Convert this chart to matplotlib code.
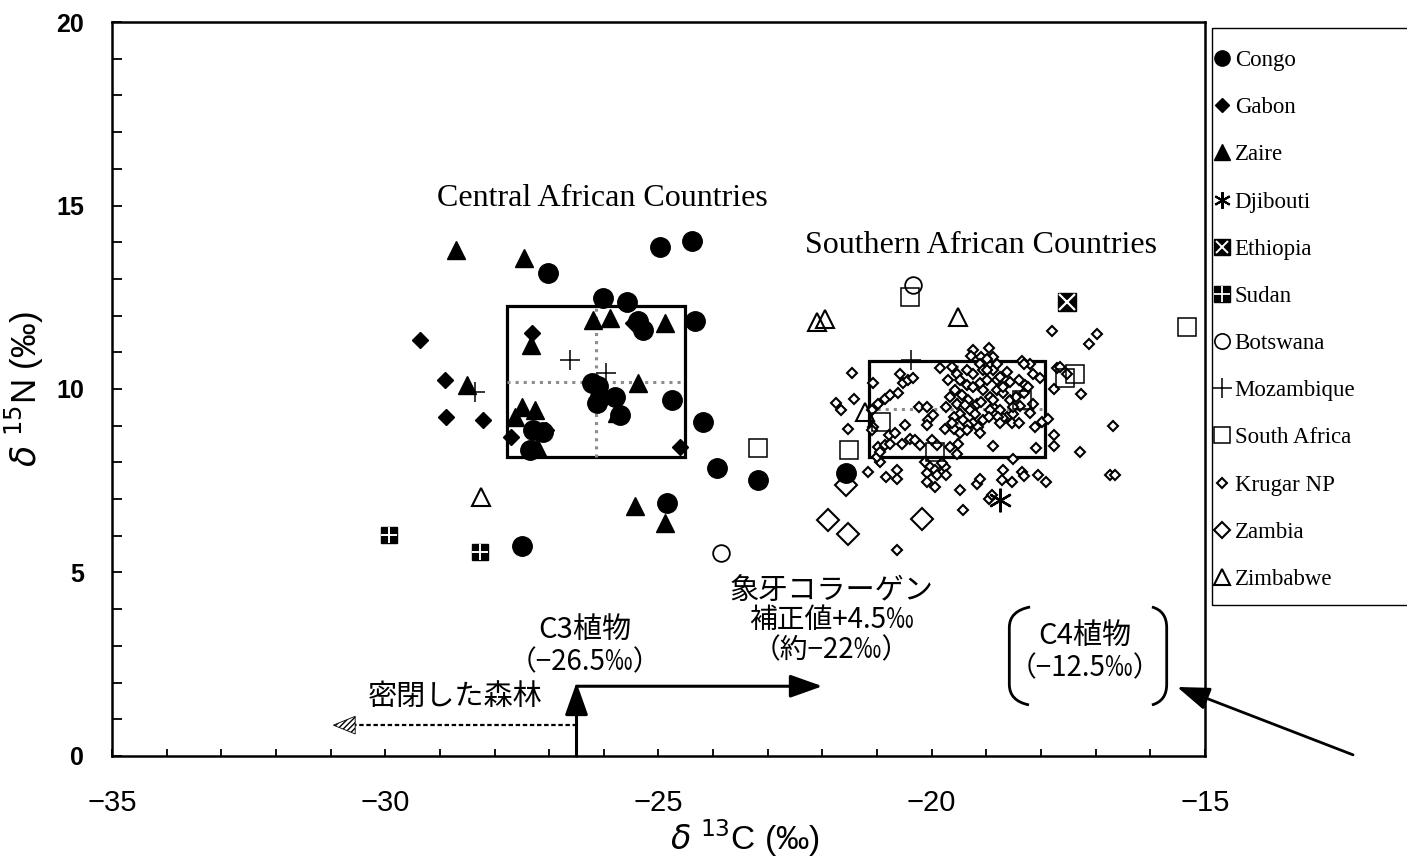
import matplotlib
matplotlib.use('Agg')
import matplotlib.pyplot as plt
from matplotlib.lines import Line2D
from matplotlib.patches import Rectangle, Polygon, PathPatch
from matplotlib.path import Path
from matplotlib.legend_handler import HandlerTuple

# ---------------- data (delta13C, delta15N) ----------------
congo = [(-24.98, 13.88), (-24.38, 14.02), (-27.03, 13.15), (-26.02, 12.47), (-25.58, 12.38),
         (-25.37, 11.84), (-25.28, 11.61), (-24.33, 11.84), (-26.22, 10.16), (-26.10, 10.07),
         (-26.07, 9.79), (-25.80, 9.79), (-26.13, 9.61), (-25.70, 9.29), (-24.76, 9.70),
         (-24.19, 9.11), (-23.93, 7.84), (-23.17, 7.52), (-24.85, 6.89), (-27.50, 5.71),
         (-27.29, 8.88), (-27.11, 8.84), (-27.35, 8.34), (-21.56, 7.70)]
gabon = [(-29.36, 11.34), (-28.91, 10.25), (-28.88, 9.25), (-28.21, 9.16), (-27.32, 11.52),
         (-27.69, 8.70), (-27.05, 8.88), (-24.61, 8.43), (-25.46, 11.79)]
zaire = [(-28.71, 13.79), (-27.46, 13.56), (-27.33, 11.20), (-28.50, 10.11), (-26.19, 11.88),
         (-25.89, 11.93), (-24.88, 11.79), (-25.37, 10.16), (-27.50, 9.52), (-27.26, 9.43),
         (-27.63, 9.25), (-27.23, 8.43), (-25.75, 9.34), (-25.43, 6.80), (-24.88, 6.34)]
djibouti = [(-18.75, 6.97)]
ethiopia = [(-17.53, 12.36)]
sudan = [(-29.94, 6.02), (-28.27, 5.57)]
botswana = [(-23.86, 5.53), (-20.35, 12.83)]
mozambique = [(-26.62, 10.79), (-25.96, 10.43), (-28.36, 9.93), (-20.38, 10.79)]
south_africa = [(-23.17, 8.39), (-20.40, 12.51), (-15.32, 11.68), (-17.38, 10.40), (-17.56, 10.29),
                (-18.35, 9.70), (-20.92, 9.10), (-21.51, 8.33), (-19.94, 8.29)]
zambia = [(-21.89, 6.42), (-21.53, 6.06), (-20.18, 6.47), (-21.56, 7.38)]
zimbabwe = [(-28.24, 7.07), (-22.10, 11.83), (-21.95, 11.92), (-19.51, 11.95), (-21.22, 9.38)]
krugar = [(-17.80, 11.58), (-16.98, 11.49), (-17.12, 11.22), (-19.24, 11.06), (-18.95, 11.12),
          (-19.09, 10.86), (-19.29, 10.89), (-18.88, 10.86), (-18.35, 10.77), (-18.20, 10.69),
          (-21.46, 10.44), (-21.75, 9.62), (-21.66, 9.44), (-21.43, 9.74), (-21.54, 8.90),
          (-21.16, 7.74), (-20.84, 7.60), (-20.63, 7.79), (-20.63, 7.56), (-20.95, 8.01),
          (-20.64, 5.62), (-21.08, 10.15), (-21.10, 9.42), (-21.07, 8.97), (-20.98, 9.60),
          (-20.85, 9.74), (-20.76, 9.83), (-20.61, 9.88), (-20.52, 10.15), (-20.43, 10.24),
          (-20.34, 10.29), (-20.58, 10.42), (-20.98, 8.42), (-20.85, 8.47), (-20.76, 8.51),
          (-20.79, 8.74), (-20.67, 8.79), (-20.55, 8.51), (-20.49, 9.01), (-20.40, 8.65),
          (-20.31, 8.60), (-20.21, 8.47), (-20.24, 9.51), (-20.09, 9.51), (-20.06, 9.15),
          (-19.97, 9.29), (-20.09, 9.01), (-20.00, 8.60), (-19.91, 8.47), (-19.76, 8.92),
          (-19.85, 10.56), (-19.67, 8.42), (-19.54, 8.24), (-19.63, 10.60), (-19.54, 10.42),
          (-19.48, 10.24), (-19.36, 10.10), (-19.57, 9.97), (-19.45, 9.83), (-19.33, 9.70),
          (-19.12, 10.69), (-18.99, 10.83), (-18.87, 10.51), (-18.81, 10.24), (-19.06, 9.97),
          (-18.93, 9.79), (-19.18, 9.60), (-19.30, 9.42), (-19.48, 9.33), (-19.60, 9.24),
          (-19.42, 9.15), (-19.24, 9.06), (-19.15, 8.97), (-19.06, 9.15), (-18.87, 9.51),
          (-18.81, 9.97), (-18.93, 9.42), (-19.60, 8.92), (-19.48, 8.79), (-19.33, 9.01),
          (-19.24, 10.06), (-19.12, 10.15), (-18.99, 10.24), (-18.75, 10.33), (-18.63, 10.47),
          (-18.57, 10.19), (-18.81, 10.69), (-18.14, 10.42), (-18.32, 10.69), (-18.69, 9.88),
          (-18.57, 9.70), (-18.45, 9.79), (-18.32, 9.88), (-18.29, 10.10), (-18.75, 9.42),
          (-18.63, 9.24), (-18.51, 9.33), (-18.38, 9.53), (-18.20, 9.35), (-18.69, 9.20),
          (-18.54, 9.06), (-18.41, 9.08), (-17.99, 9.10), (-18.87, 9.70), (-18.02, 10.29),
          (-19.36, 10.51), (-19.06, 10.51), (-19.24, 10.42), (-17.71, 10.56), (-17.65, 10.60),
          (-17.77, 9.99), (-17.26, 9.86), (-17.53, 10.40), (-17.87, 9.17), (-17.77, 8.74),
          (-17.77, 8.45), (-17.29, 8.29), (-16.69, 8.99), (-16.74, 7.65), (-16.65, 7.65),
          (-18.10, 8.38), (-18.88, 8.45), (-18.52, 8.08), (-20.12, 8.01), (-20.03, 7.88),
          (-19.94, 7.79), (-20.09, 7.70), (-19.91, 7.65), (-20.09, 7.47), (-19.94, 7.33),
          (-19.76, 7.88), (-19.73, 7.65), (-19.82, 7.97), (-19.48, 7.24), (-19.42, 6.71),
          (-19.18, 7.42), (-19.12, 7.56), (-18.69, 7.79), (-18.72, 7.53), (-18.54, 7.47),
          (-18.35, 7.74), (-18.32, 7.62), (-18.05, 7.67), (-17.91, 7.47), (-18.96, 7.01),
          (-18.90, 7.10), (-21.01, 8.15), (-20.95, 8.29), (-21.10, 8.88), (-19.63, 9.06),
          (-19.67, 9.79), (-19.54, 9.60), (-19.39, 9.56), (-19.09, 9.65), (-18.96, 9.24),
          (-18.78, 9.24), (-19.21, 9.33), (-19.70, 10.24), (-18.99, 10.51), (-18.69, 10.06),
          (-18.51, 9.51), (-18.41, 10.24), (-18.23, 10.06), (-18.14, 9.60), (-18.11, 8.97),
          (-19.73, 9.51), (-19.36, 8.88), (-19.12, 8.79), (-18.75, 9.06), (-19.51, 8.51)]

# group mean and SD (box = mean +/- SD)
group_names = ["Central African Countries", "Southern African Countries"]
group_mean_x = [-26.14, -19.54]
group_mean_y = [10.20, 9.45]
group_sd_x = [1.63, 1.61]
group_sd_y = [2.05, 1.30]

# reference values of plants
c3_value = -26.5
collagen_value = -22.0
c4_value = -12.5

x_ticks = [-35, -30, -25, -20, -15]
y_ticks = [0, 5, 10, 15, 20]

# ---------------- figure ----------------
JP = ['Noto Sans CJK JP', 'DejaVu Sans']
SERIF = ['Liberation Serif', 'DejaVu Serif']
NARROW = ['Liberation Sans Narrow', 'Liberation Sans']

fig = plt.figure(figsize=(14.07, 8.61), dpi=100)
ax = fig.add_axes([0.0796, 0.122, 0.7768, 0.8524])
ax.set_xlim(-35, -15)
ax.set_ylim(0, 20)

for s in ax.spines.values():
    s.set_linewidth(1.8)

ax.set_xticks(x_ticks)
ax.set_xticks(range(-35, -14), minor=True)
ax.set_yticks(y_ticks)
ax.set_yticks(range(0, 21), minor=True)
ax.tick_params(axis='both', which='both', direction='in', width=1.3, color='black')
ax.tick_params(axis='y', which='both', length=7, pad=20)
ax.tick_params(axis='x', which='both', length=5, pad=24)
ax.set_xticklabels([f"\u2212{abs(v)}" for v in x_ticks], fontfamily=NARROW, fontsize=21)
ax.set_yticklabels([str(v) for v in y_ticks], fontfamily=['Liberation Sans', 'DejaVu Sans'],
                   fontsize=18, fontweight='bold')

ax.set_xlabel(r'$\delta$ $^{13}$C (‰)', fontsize=24, fontfamily=NARROW)
ax.xaxis.set_label_coords(0.579, -0.083)
ax.set_ylabel(r'$\delta$ $^{15}$N (‰)', fontsize=25, fontfamily=NARROW)
ax.yaxis.set_label_coords(-0.060, 0.50)

# boxes (mean +/- SD) with dotted cross lines at the mean
for mx, my, sx, sy in zip(group_mean_x, group_mean_y, group_sd_x, group_sd_y):
    ax.add_patch(Rectangle((mx - sx, my - sy), 2 * sx, 2 * sy, fill=False,
                           edgecolor='black', linewidth=2.3, zorder=2))
    ax.plot([mx - sx, mx + sx], [my, my], color='#8c8c8c', linestyle=':', linewidth=2.2, zorder=2)
    ax.plot([mx, mx], [my - sy, my + sy], color='#8c8c8c', linestyle=':', linewidth=2.2, zorder=2)


def xs(pts):
    return [p[0] for p in pts]


def ys(pts):
    return [p[1] for p in pts]


kw = dict(linestyle='none', zorder=4)
ax.plot(xs(krugar), ys(krugar), marker='D', ms=5, mfc='white', mec='black', mew=1.5, **kw)
ax.plot(xs(zambia), ys(zambia), marker='D', ms=11.5, mfc='none', mec='black', mew=1.5, **kw)
ax.plot(xs(south_africa), ys(south_africa), marker='s', ms=12.5, mfc='none', mec='black', mew=1.1, **kw)
ax.plot(xs(zimbabwe), ys(zimbabwe), marker='^', ms=13, mfc='none', mec='black', mew=1.5, **kw)
ax.plot(xs(botswana), ys(botswana), marker='o', ms=12, mfc='none', mec='black', mew=1.3, **kw)
ax.plot(xs(mozambique), ys(mozambique), marker='+', ms=15, color='black', mew=1.1, **kw)
ax.plot(xs(gabon), ys(gabon), marker='D', ms=8, color='black', **kw)
ax.plot(xs(zaire), ys(zaire), marker='^', ms=13.5, color='black', **kw)
ax.plot(xs(congo), ys(congo), marker='o', ms=14, color='black', **kw)
ax.plot(xs(sudan), ys(sudan), marker='s', ms=12, color='black', **kw)
ax.plot(xs(sudan), ys(sudan), marker='+', ms=12, color='white', mew=1.4, **kw)
ax.plot(xs(ethiopia), ys(ethiopia), marker='s', ms=13, color='black', **kw)
ax.plot(xs(ethiopia), ys(ethiopia), marker='x', ms=11, color='white', mew=1.6, **kw)
ax.plot(xs(djibouti), ys(djibouti), marker=(6, 2, 0), ms=17, color='black', mew=1.7, **kw)

# group titles
ax.text(-26.02, 15.2, group_names[0], ha='center', va='center', fontsize=23, fontfamily=SERIF)
ax.text(-19.10, 13.9, group_names[1], ha='center', va='center', fontsize=23, fontfamily=SERIF)

# C3 annotation
ax.text(-26.35, 3.43, "C3植物", ha='center', va='center', fontsize=21, fontfamily=JP)
ax.text(-26.35, 2.56, f"（\u2212{abs(c3_value)}‰）", ha='center', va='center', fontsize=20, fontfamily=JP)
ax.annotate('', xy=(c3_value, 2.0), xytext=(c3_value, 0.0),
            arrowprops=dict(arrowstyle='-|>,head_length=0.9,head_width=0.32', lw=2.2,
                            color='black', mutation_scale=22, shrinkA=0, shrinkB=0))
ax.annotate('', xy=(collagen_value, 1.9), xytext=(c3_value, 1.9),
            arrowprops=dict(arrowstyle='-|>,head_length=0.9,head_width=0.32', lw=2.2,
                            color='black', mutation_scale=22, shrinkA=0, shrinkB=0))

# ivory collagen annotation
ax.text(-21.84, 4.50, "象牙コラーゲン", ha='center', va='center', fontsize=21, fontfamily=JP)
ax.text(-21.84, 3.71, "補正値+4.5‰", ha='center', va='center', fontsize=20, fontfamily=JP)
ax.text(-21.84, 2.89, f"（約\u2212{abs(int(collagen_value))}‰）", ha='center', va='center', fontsize=20, fontfamily=JP)

# closed forest dashed arrow
ax.text(-28.72, 1.62, "密閉した森林", ha='center', va='center', fontsize=21, fontfamily=JP)
ax.plot([c3_value, -30.55], [0.84, 0.84], color='black', linestyle=(0, (2, 1.2)), linewidth=1.6, zorder=3)
ax.add_patch(Polygon([(-30.95, 0.84), (-30.55, 1.08), (-30.55, 0.60)], closed=True,
                     facecolor='white', edgecolor='black', hatch='//////', linewidth=0.6, zorder=3))

# C4 annotation with brackets
ax.text(-17.20, 3.27, "C4植物", ha='center', va='center', fontsize=21, fontfamily=JP)
ax.text(-17.20, 2.40, f"（\u2212{abs(c4_value)}‰）", ha='center', va='center', fontsize=20, fontfamily=JP)
left_br = Path([(-18.20, 4.06), (-18.58, 3.95), (-18.58, 3.50), (-18.58, 1.95),
                (-18.58, 1.50), (-18.22, 1.39)],
               [Path.MOVETO, Path.CURVE3, Path.CURVE3, Path.LINETO, Path.CURVE3, Path.CURVE3])
right_br = Path([(-15.97, 4.06), (-15.70, 3.95), (-15.70, 3.50), (-15.70, 1.95),
                 (-15.70, 1.50), (-15.97, 1.39)],
                [Path.MOVETO, Path.CURVE3, Path.CURVE3, Path.LINETO, Path.CURVE3, Path.CURVE3])
for br in (left_br, right_br):
    ax.add_patch(PathPatch(br, facecolor='none', edgecolor='black', linewidth=2.0, zorder=3))

ax.annotate('', xy=(-15.51, 1.88), xytext=(-12.29, 0.03), xycoords='data', textcoords='data',
            annotation_clip=False,
            arrowprops=dict(arrowstyle='-|>,head_length=0.9,head_width=0.32', lw=2.0,
                            color='black', mutation_scale=22, shrinkA=0, shrinkB=0))

# legend
H = lambda **k: Line2D([], [], linestyle='none', **k)
handles = [
    H(marker='o', ms=11, color='black'),
    H(marker='D', ms=7, color='black'),
    H(marker='^', ms=11, color='black'),
    H(marker=(6, 2, 0), ms=12, color='black', mew=1.5),
    (H(marker='s', ms=11, color='black'), H(marker='x', ms=9, color='white', mew=1.4)),
    (H(marker='s', ms=11, color='black'), H(marker='+', ms=11, color='white', mew=1.3)),
    H(marker='o', ms=11, mfc='none', mec='black', mew=1.2),
    H(marker='+', ms=14, color='black', mew=1.1),
    H(marker='s', ms=11, mfc='none', mec='black', mew=1.1),
    H(marker='D', ms=5, mfc='white', mec='black', mew=1.5),
    H(marker='D', ms=8, mfc='none', mec='black', mew=1.5),
    H(marker='^', ms=11, mfc='none', mec='black', mew=1.5),
]
labels = ["Congo", "Gabon", "Zaire", "Djibouti", "Ethiopia", "Sudan", "Botswana",
          "Mozambique", "South Africa", "Krugar NP", "Zambia", "Zimbabwe"]
# legend frame (extends past the right edge of the figure as in the original)
fig.add_artist(Rectangle((1212 / 1407, 1 - 605 / 861), 0.2, 577 / 861, transform=fig.transFigure,
                         fill=False, edgecolor='black', linewidth=1.0))
leg = fig.legend(handles, labels, loc='upper left', bbox_to_anchor=(1213 / 1407, 1 - 50 / 861),
                 bbox_transform=fig.transFigure, borderaxespad=0, frameon=False,
                 prop={'family': SERIF, 'size': 16.5},
                 handlelength=0.75, handletextpad=0.2, labelspacing=1.14, borderpad=0,
                 handler_map={tuple: HandlerTuple(ndivide=1, pad=0)})

fig.savefig('out.png', dpi=100)
